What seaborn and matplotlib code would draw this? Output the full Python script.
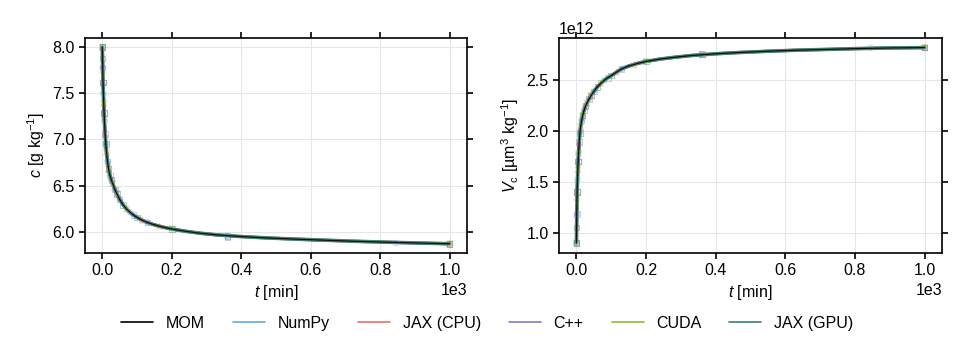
import numpy as np
import pandas as pd
import matplotlib
matplotlib.use("Agg")
import matplotlib.pyplot as plt
import seaborn as sns
from matplotlib.lines import Line2D

# ---------------- data ----------------
mom_t = [0, 0.5, 1, 1.5, 2, 3, 4, 5, 6, 8, 10, 12, 15, 18, 22, 26, 30, 36, 42,
         50, 60, 70, 80, 90, 100, 115, 130, 150, 175, 200, 240, 280, 330, 400,
         470, 550, 630, 720, 810, 900, 1000]
mom_c = [8.0, 7.88, 7.78, 7.7, 7.62, 7.5, 7.39, 7.29, 7.2, 7.06, 6.95, 6.86,
         6.76, 6.68, 6.61, 6.56, 6.52, 6.46, 6.41, 6.35, 6.29, 6.245, 6.21,
         6.18, 6.155, 6.125, 6.1, 6.075, 6.05, 6.03, 6.005, 5.985, 5.966,
         5.948, 5.934, 5.921, 5.91, 5.898, 5.888, 5.879, 5.87]
mom_v = [0.9, 1.05, 1.18, 1.3, 1.4, 1.52, 1.62, 1.7, 1.77, 1.89, 1.98, 2.04,
         2.1, 2.15, 2.2, 2.24, 2.27, 2.31, 2.345, 2.385, 2.43, 2.465, 2.495,
         2.52, 2.54, 2.575, 2.607, 2.635, 2.66, 2.68, 2.703, 2.72, 2.738,
         2.755, 2.768, 2.78, 2.79, 2.798, 2.806, 2.812, 2.816]

# marker samples of each solver (adaptive output times)
numpy_t = [0, 1, 3, 6, 10, 15, 26, 36, 50, 80, 130, 360, 845]
numpy_c = [8.0, 7.78, 7.5, 7.2, 6.95, 6.76, 6.56, 6.46, 6.35, 6.21, 6.1, 5.953, 5.878]
numpy_v = [0.9, 1.18, 1.52, 1.77, 1.98, 2.1, 2.24, 2.31, 2.385, 2.495, 2.607, 2.75, 2.815]

jaxcpu_t = [0, 2, 4, 8, 12, 18, 30, 42, 70, 115, 165, 1000]
jaxcpu_c = [8.0, 7.62, 7.39, 7.06, 6.86, 6.68, 6.52, 6.41, 6.245, 6.125, 6.06, 5.87]
jaxcpu_v = [0.9, 1.4, 1.62, 1.89, 2.04, 2.15, 2.27, 2.345, 2.465, 2.575, 2.65, 2.816]

cpp_t = [0, 1, 2, 5, 8, 15, 22, 36, 50, 90, 130, 360, 1000]
cpp_c = [8.0, 7.78, 7.62, 7.29, 7.06, 6.76, 6.61, 6.46, 6.35, 6.18, 6.1, 5.945, 5.87]
cpp_v = [0.9, 1.18, 1.4, 1.7, 1.89, 2.1, 2.2, 2.31, 2.385, 2.52, 2.607, 2.755, 2.816]

cuda_t = [0, 1.5, 4, 6, 12, 18, 30, 42, 70, 200, 1000]
cuda_c = [8.0, 7.7, 7.39, 7.2, 6.86, 6.68, 6.52, 6.41, 6.245, 6.03, 5.87]
cuda_v = [0.9, 1.3, 1.62, 1.77, 2.04, 2.15, 2.27, 2.345, 2.465, 2.68, 2.816]

jaxgpu_t = [0, 0.5, 2, 5, 10, 18, 26, 42, 60, 100, 200, 360, 1000]
jaxgpu_c = [8.0, 7.88, 7.62, 7.29, 6.95, 6.68, 6.56, 6.41, 6.29, 6.155, 6.03, 5.955, 5.87]
jaxgpu_v = [0.9, 1.05, 1.4, 1.7, 1.98, 2.15, 2.24, 2.345, 2.43, 2.54, 2.68, 2.75, 2.816]

solver_names = ["NumPy", "JAX (CPU)", "C++", "CUDA", "JAX (GPU)"]
solver_colors = ["#62aaea", "#e8706e", "#8a7cc4", "#86c232", "#3d7f6e"]
solver_markers = ["o", "^", "s", "v", "s"]

solvers = [
    (numpy_t, numpy_c, numpy_v),
    (jaxcpu_t, jaxcpu_c, jaxcpu_v),
    (cpp_t, cpp_c, cpp_v),
    (cuda_t, cuda_c, cuda_v),
    (jaxgpu_t, jaxgpu_c, jaxgpu_v),
]

# ---------------- style ----------------
sns.set_theme(style="ticks")
FS = 11.5
plt.rcParams["font.family"] = ["Liberation Sans", "DejaVu Sans"]
plt.rcParams["mathtext.fontset"] = "custom"
plt.rcParams["mathtext.rm"] = "Liberation Sans"
plt.rcParams["mathtext.it"] = "Liberation Sans:italic"
plt.rcParams["font.size"] = FS
plt.rcParams["text.color"] = "black"
plt.rcParams["axes.labelcolor"] = "black"
plt.rcParams["xtick.color"] = "black"
plt.rcParams["ytick.color"] = "black"

fig = plt.figure(figsize=(9.69, 3.46), dpi=100)
ax1 = fig.add_axes([0.0877, 0.2688, 0.3942, 0.6214])
ax2 = fig.add_axes([0.5769, 0.2688, 0.3953, 0.6214])

mom_df = pd.DataFrame({"t": mom_t, "c": mom_c, "v": np.array(mom_v) * 1e12})

for ax, key in [(ax1, "c"), (ax2, "v")]:
    # solver curves (they coincide with the MOM curve at this scale)
    for i, (name, col) in enumerate(zip(solver_names, solver_colors)):
        last = i == len(solver_names) - 1
        sns.lineplot(data=mom_df, x="t", y=key, ax=ax, color=col,
                     lw=2.6 if last else 2.2, alpha=0.9 if last else 0.5,
                     sort=False, legend=False, estimator=None, zorder=2 + i * 0.01)
    # solver output points
    for (tt, cc, vv), name, col, mk in zip(solvers, solver_names, solver_colors, solver_markers):
        df = pd.DataFrame({"t": tt, "c": cc, "v": np.array(vv) * 1e12})
        sns.scatterplot(data=df, x="t", y=key, ax=ax, marker=mk, s=16,
                        facecolors="none", edgecolor=col, linewidth=0.8,
                        alpha=0.4, legend=False, zorder=3)
    sns.lineplot(data=mom_df, x="t", y=key, ax=ax, color="black", lw=0.9,
                 alpha=0.85, sort=False, legend=False, estimator=None, zorder=4)
    ax.grid(True, color="#e6e6e6", lw=0.8)
    ax.set_axisbelow(True)
    for sp in ax.spines.values():
        sp.set_linewidth(1.2)
        sp.set_color("black")
    ax.tick_params(axis="both", which="both", direction="out", length=4.5, width=1.2,
                   top=True, right=True, labeltop=False, labelright=False,
                   labelsize=FS, colors="black", pad=3)
    ax.set_xlim(-50, 1050)
    ax.set_xticks([0, 200, 400, 600, 800, 1000])
    ax.set_xlabel(r"$t$ [min]", fontsize=FS, labelpad=3)
    ax.ticklabel_format(axis="x", style="sci", scilimits=(0, 0))
    ax.xaxis.get_offset_text().set_fontsize(FS)
    ax.yaxis.get_offset_text().set_fontsize(FS)

ax1.set_ylim(5.77, 8.1)
ax1.set_yticks([6.0, 6.5, 7.0, 7.5, 8.0])
ax1.set_ylabel(r"$c$ [g kg$^{-1}$]", fontsize=FS)

ax2.set_ylim(0.8e12, 2.91e12)
ax2.set_yticks([1.0e12, 1.5e12, 2.0e12, 2.5e12])
ax2.set_ylabel(r"$V_\mathrm{c}$ [µm$^3$ kg$^{-1}$]", fontsize=FS)
ax2.ticklabel_format(axis="y", style="sci", scilimits=(0, 0))

handles = [Line2D([0], [0], color="black", lw=1.2)]
handles += [Line2D([0], [0], color=c, lw=1.2) for c in solver_colors]
labels = ["MOM"] + solver_names
fig.legend(handles, labels, loc="center", bbox_to_anchor=(0.503, 0.066), ncol=6,
           frameon=False, fontsize=FS, handlelength=2.0, columnspacing=1.75,
           handletextpad=0.8)

fig.savefig("out.png", dpi=100)
